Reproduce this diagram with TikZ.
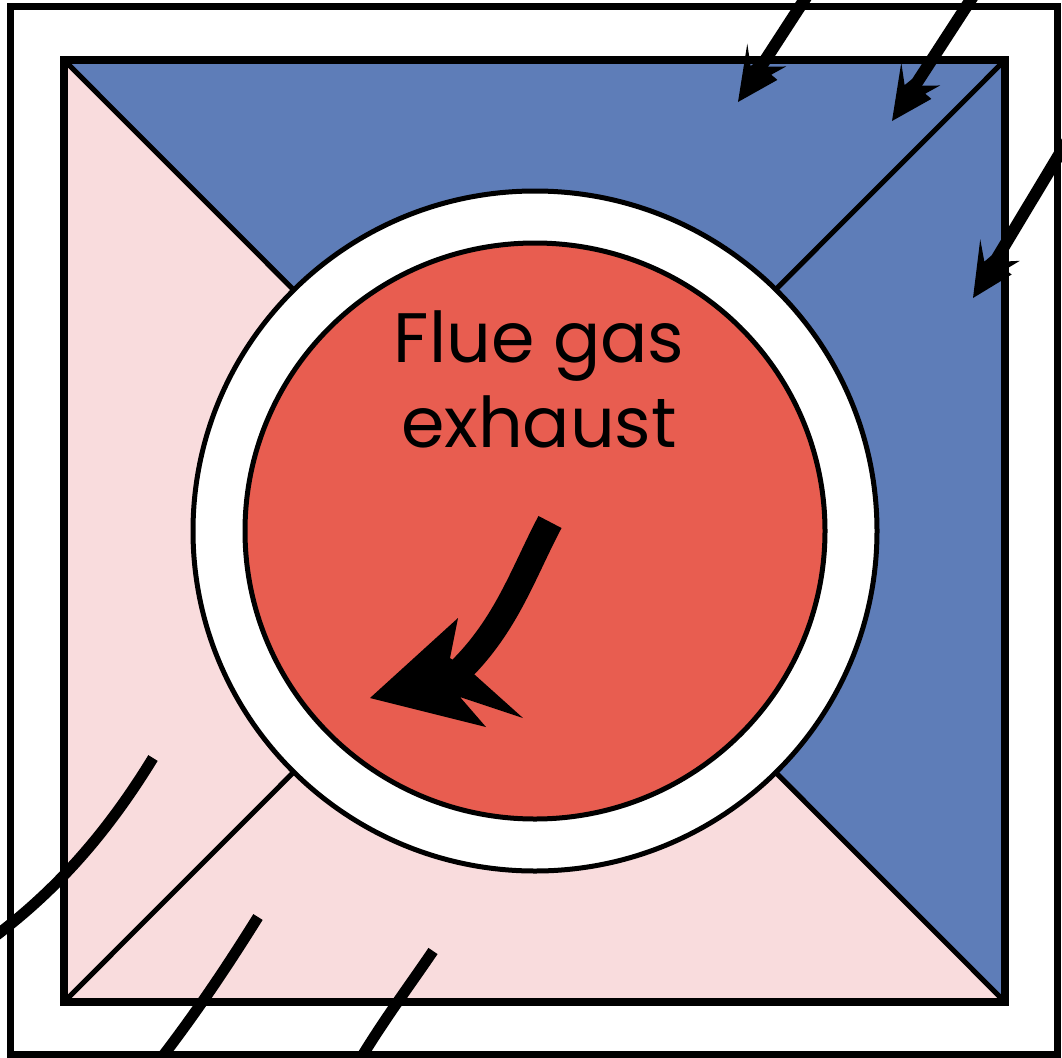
\documentclass[tikz,border=0pt]{standalone}
\usepackage{fontspec}
\newfontfamily\labelfont{Poppins}
\definecolor{blu}{RGB}{94,125,184}
\definecolor{pnk}{RGB}{249,220,221}
\definecolor{rd}{RGB}{232,93,80}
\tikzset{
  frame/.style={line width=7, draw=black},
  thinline/.style={line width=5, draw=black},
  flow/.style={line width=12, draw=black, line cap=butt},
  tail/.style={line width=11, draw=black, line cap=butt},
  lbl/.style={font=\labelfont\fontsize{70}{84}\selectfont, anchor=base, inner sep=0},
}
\newcommand\spikehead{\fill (0,0) -- (-54,24) -- (-37,9) -- (-46,6) -- (-46,-6) -- (-56,-21) -- (-41,-13) -- (-40,-21) -- cycle;}
\begin{document}
\begin{tikzpicture}[x=1pt,y=-1pt]
\useasboundingbox (0,0) rectangle (1062,1057);
\clip (0,0) rectangle (1062,1057);
\fill[white] (0,0) rectangle (1062,1057);
% outer frame
\draw[frame] (10,7) rectangle (1057,1054);
% inner square triangles
\coordinate (c) at (535,531);
\coordinate (tl) at (64,60);
\coordinate (tr) at (1005,60);
\coordinate (br) at (1005,1002);
\coordinate (bl) at (64,1002);
\fill[blu] (tl) -- (tr) -- (br) -- (c) -- cycle;
\fill[pnk] (tl) -- (bl) -- (br) -- (c) -- cycle;
\draw[thinline] (tl) -- (br);
\draw[thinline] (bl) -- (tr);
\draw[line width=8] (tl) rectangle (br);
% rings
\draw[thinline, fill=white] (c) ellipse [x radius=342, y radius=340];
\draw[thinline, fill=rd] (c) ellipse [x radius=290, y radius=288];
% label
\node[lbl] (l1) at (539,362) {Flue gas};
\node[lbl] (l2) at (539,447) {exhaust};
% central arrow
\draw[line width=26, line cap=butt] (550,522) .. controls (522,575) and (505,630) .. (452,678);
\fill (370,698) -- (458,618) -- (450,658) -- (475,675) -- (523,718) -- (460,697) -- (486,727) -- cycle;
% incoming arrows top right
\begin{scope}[shift={(738,102)}, rotate=-123]
  \draw[flow] (-40,0) -- (-260,0);
  \spikehead
\end{scope}
\begin{scope}[shift={(892,121)}, rotate=-123]
  \draw[flow] (-40,0) -- (-260,0);
  \spikehead
\end{scope}
\begin{scope}[shift={(973,298)}, rotate=-121]
  \draw[flow] (-40,0) -- (-260,0);
  \spikehead
\end{scope}
% tails bottom left
\draw[tail] (153,758) .. controls (115,820) and (65,885) .. (-10,940);
\draw[tail] (258,917) .. controls (228,965) and (195,1015) .. (152,1070);
\draw[tail] (433,951) .. controls (410,985) and (380,1025) .. (355,1068);
\end{tikzpicture}
\end{document}
